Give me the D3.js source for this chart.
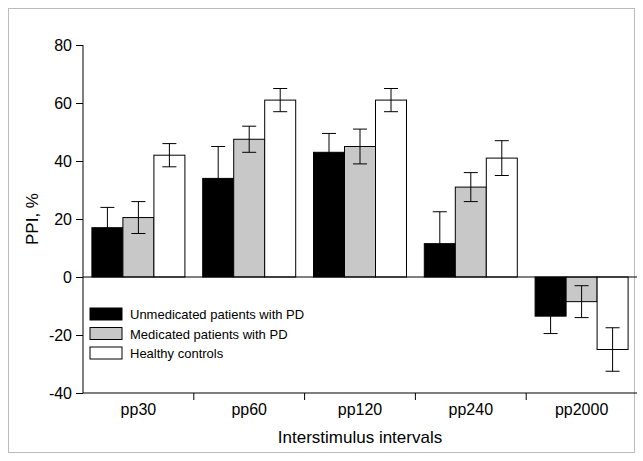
<!DOCTYPE html>
<html><head><meta charset="utf-8">
<script src="https://cdn.jsdelivr.net/npm/d3@7"></script>
<style>body{margin:0;background:#fff}text{font-family:"Liberation Sans",Arial,sans-serif}</style>
</head><body><svg id="c" width="643" height="461"></svg>
<script>
const categories = ["pp30", "pp60", "pp120", "pp240", "pp2000"];
const groups = ["Unmedicated patients with PD", "Medicated patients with PD", "Healthy controls"];
const fills = ["#000000", "#c8c8c8", "#ffffff"];
const unmedicated = [17, 34, 43, 11.5, -13.5];
const medicated = [20.5, 47.5, 45, 31, -8.5];
const controls = [42, 61, 61, 41, -25];
const unmedicatedErr = [7, 11, 6.5, 11, 6];
const medicatedErr = [5.5, 4.5, 6, 5, 5.5];
const controlsErr = [4, 4, 4, 6, 7.5];
const yTicks = [-40, -20, 0, 20, 40, 60, 80];

const series = [unmedicated, medicated, controls];
const errs = [unmedicatedErr, medicatedErr, controlsErr];

const svg = d3.select("#c");
svg.append("rect").attr("x", 8.5).attr("y", 8.5).attr("width", 626).attr("height", 444)
  .attr("fill", "none").attr("stroke", "#bbb");

const x = d3.scaleBand(categories, [83, 637]);
const xi = d3.scaleBand(d3.range(3), [0, 93]);
const y = d3.scaleLinear([-40, 80], [393, 45]);

const gY = svg.append("g").attr("transform", "translate(83,0)")
  .call(d3.axisLeft(y).tickValues(yTicks).tickFormat(d => String(d)).tickSize(7).tickPadding(4));
gY.selectAll("text").attr("font-size", 16).attr("fill", "#000");
gY.select(".domain").attr("d", `M0,${y(80)}V${y(-40)}`);

const gX = svg.append("g").attr("transform", "translate(0,393)");
gX.append("line").attr("x1", 83).attr("x2", 637).attr("stroke", "#000");
categories.forEach((c, i) => {
  const cx = x(c) + x.bandwidth() / 2;
  gX.append("text").attr("x", cx).attr("y", 22).attr("text-anchor", "middle")
    .attr("font-size", 16).text(c);
  if (i > 0) gX.append("line").attr("x1", x(c)).attr("x2", x(c)).attr("y2", 7).attr("stroke", "#000");
});

categories.forEach((c, ci) => {
  const off = x(c) + (x.bandwidth() - 93) / 2;
  series.forEach((s, si) => {
    const v = s[ci], e = errs[si][ci];
    const bx = off + xi(si), bw = xi.bandwidth();
    svg.append("rect").attr("x", bx).attr("width", bw)
      .attr("y", y(Math.max(0, v))).attr("height", Math.abs(y(v) - y(0)))
      .attr("fill", fills[si]).attr("stroke", "#000");
    const mx = bx + bw / 2;
    svg.append("path").attr("fill", "none").attr("stroke", "#000")
      .attr("d", `M${mx},${y(v + e)}V${y(v - e)}M${mx - 7},${y(v + e)}h14M${mx - 7},${y(v - e)}h14`);
  });
});

svg.append("line").attr("x1", 83).attr("x2", 637).attr("y1", y(0)).attr("y2", y(0)).attr("stroke", "#000");

groups.forEach((g, i) => {
  const ly = 308 + i * 19.5;
  svg.append("rect").attr("x", 90).attr("y", ly).attr("width", 32).attr("height", 12)
    .attr("fill", fills[i]).attr("stroke", "#000");
  svg.append("text").attr("x", 130).attr("y", ly + 11).attr("font-size", 13).text(g);
});

svg.append("text").attr("transform", "translate(38,219) rotate(-90)").attr("text-anchor", "middle")
  .attr("font-size", 17).text("PPI, %");
svg.append("text").attr("x", 360).attr("y", 443).attr("text-anchor", "middle")
  .attr("font-size", 17).text("Interstimulus intervals");
</script></body></html>
